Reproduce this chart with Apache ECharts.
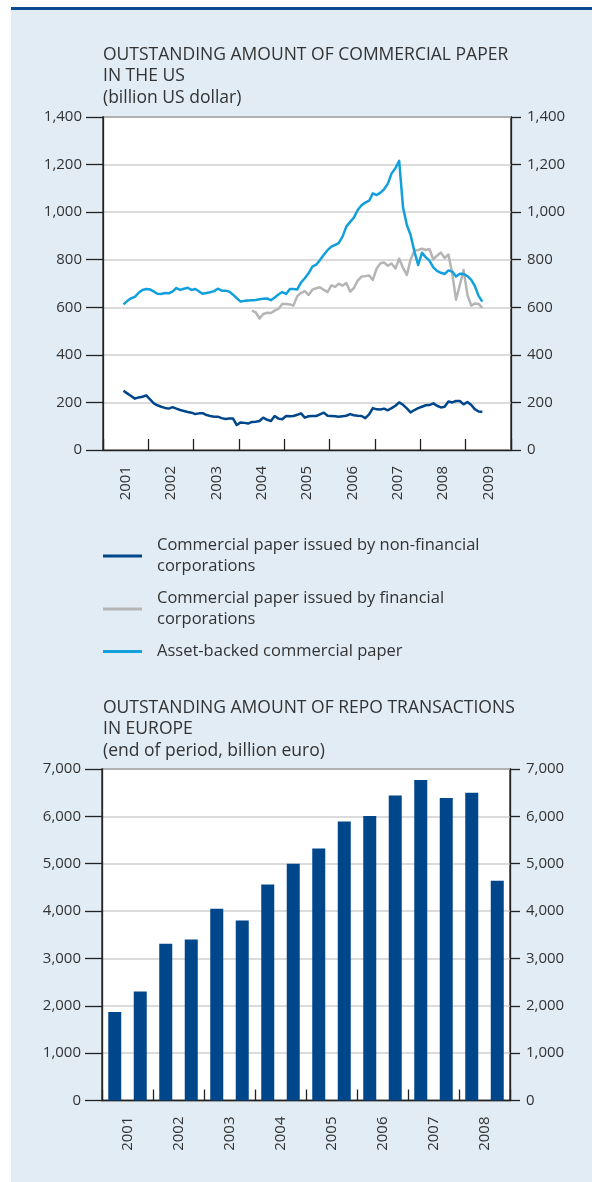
<!DOCTYPE html>
<html>
<head>
<meta charset="utf-8">
<script src="https://cdn.jsdelivr.net/npm/echarts@6/dist/echarts.min.js"></script>
<style>
  html, body { margin: 0; padding: 0; background: #fff; }
  #page { position: relative; width: 592px; height: 1182px; overflow: hidden; background: #fff; }
  #panel { position: absolute; left: 11px; top: 10px; right: 0; bottom: 0; background: #e1ecf4; }
  #rule { position: absolute; left: 11px; top: 7px; right: 0; height: 3px; background: #0b4a90; }
  #chart { position: absolute; left: 0; top: 0; width: 592px; height: 1182px; }
</style>
</head>
<body>
<div id="page">
  <div id="panel"></div>
  <div id="rule"></div>
  <div id="chart"></div>
</div>
<script>
// ---- Commercial paper outstanding in the US (billion US dollar), monthly ----
const cpYears = ['2001', '2002', '2003', '2004', '2005', '2006', '2007', '2008', '2009'];
const cpFirstMonth = '2001-06';
const financialFirstMonth = '2004-04';

const nonFinancial = [
  249, 238, 227, 216, 221, 224, 230, 213, 196, 188, 182, 177,
  174, 180, 174, 168, 164, 160, 157, 151, 154, 155, 147, 143,
  140, 140, 134, 130, 132, 132, 105, 116, 114, 111, 118, 119,
  122, 136, 127, 122, 143, 132, 129, 143, 142, 143, 148, 154,
  136, 142, 143, 143, 150, 157, 144, 143, 142, 140, 142, 144,
  151, 146, 144, 143, 134, 150, 176, 171, 170, 174, 167, 176,
  186, 200, 190, 175, 158, 168, 176, 182, 188, 189, 196, 186,
  179, 182, 204, 200, 206, 206, 192, 202, 189, 172, 162, 161
];

const financial = [
  586, 579, 553, 572, 577, 576, 586, 594, 614, 614, 612, 607,
  647, 660, 668, 652, 674, 680, 684, 673, 664, 692, 686, 699,
  691, 702, 666, 681, 712, 729, 731, 734, 715, 764, 785, 788,
  775, 784, 763, 804, 766, 736, 801, 838, 841, 846, 841, 845,
  801, 817, 830, 807, 822, 740, 632, 694, 757, 652, 607, 616,
  614, 598
];

const assetBacked = [
  612, 626, 638, 644, 661, 673, 677, 675, 666, 657, 656, 660,
  659, 666, 681, 673, 678, 682, 673, 677, 666, 657, 660, 663,
  668, 678, 670, 670, 666, 653, 638, 624, 627, 629, 630, 631,
  634, 636, 637, 630, 641, 654, 664, 656, 677, 677, 675, 704,
  722, 743, 771, 779, 799, 821, 840, 855, 862, 870, 897, 939,
  959, 977, 1009, 1029, 1040, 1048, 1079, 1072, 1082, 1096, 1120, 1163,
  1185, 1216, 1020, 946, 904, 834, 778, 829, 810, 796, 768, 753,
  745, 740, 755, 750, 729, 741, 740, 731, 715, 690, 648, 624
];

// ---- Repo transactions outstanding in Europe (end of period, billion euro) ----
const repoYears = ['2001', '2002', '2003', '2004', '2005', '2006', '2007', '2008'];
const repoPeriods = [
  '2001 H1', '2001 H2', '2002 H1', '2002 H2', '2003 H1', '2003 H2', '2004 H1', '2004 H2',
  '2005 H1', '2005 H2', '2006 H1', '2006 H2', '2007 H1', '2007 H2', '2008 H1', '2008 H2'
];
const repoValues = [
  1870, 2300, 3310, 3400, 4050, 3800, 4560, 5000,
  5320, 5890, 6010, 6440, 6770, 6390, 6500, 4640
];

const seriesNames = {
  nonFinancial: 'Commercial paper issued by non-financial corporations',
  financial: 'Commercial paper issued by financial corporations',
  assetBacked: 'Asset-backed commercial paper'
};
const legendText = {
  'Commercial paper issued by non-financial corporations': 'Commercial paper issued by non-financial\ncorporations',
  'Commercial paper issued by financial corporations': 'Commercial paper issued by financial\ncorporations',
  'Asset-backed commercial paper': 'Asset-backed commercial paper'
};

const FONT = '"Open Sans", "Noto Sans", sans-serif';
const INK = '#333333';
const AXIS = '#222222';
const GRID_LINE = '#cfcfcf';
const DARK_BLUE = '#00468b';
const GREY = '#b5b5b5';
const CYAN = '#12a0dc';

// Month positions are placed mid-month on the time scale.
function monthSeries(start, values) {
  const parts = start.split('-').map(Number);
  return values.map(function (v, i) {
    const m = parts[1] - 1 + i;
    const y = parts[0] + Math.floor(m / 12);
    const mo = (m % 12) + 1;
    return [y + '-' + String(mo).padStart(2, '0') + '-15', v];
  });
}

const thousands = function (v) { return Number(v).toLocaleString('en-US'); };

function valueAxis(gridIndex, max, interval, side) {
  const left = side === 'left';
  return {
    type: 'value', gridIndex: gridIndex, position: side,
    min: 0, max: max, interval: interval,
    axisLine: { show: true, lineStyle: { color: AXIS, width: 1.3 } },
    axisTick: { show: true, inside: false, length: left ? 17 : 10, lineStyle: { color: AXIS, width: 1.3 } },
    axisLabel: { margin: left ? 21 : 16, color: INK, fontSize: 15, fontFamily: FONT, formatter: thousands },
    splitLine: { show: left, lineStyle: { color: GRID_LINE, width: 1.5 } }
  };
}

function yearAxis(gridIndex, years) {
  return {
    type: 'category', gridIndex: gridIndex, position: 'bottom', data: years, boundaryGap: true,
    axisLine: { show: true, lineStyle: { color: AXIS, width: 1.3 } },
    axisTick: { show: true, inside: true, length: 11, interval: 0, alignWithLabel: false, lineStyle: { color: AXIS, width: 1.3 } },
    axisLabel: { rotate: 90, margin: 16, interval: 0, color: INK, fontSize: 15, fontFamily: FONT },
    splitLine: { show: false }
  };
}

const titleStyle = { fontSize: 17.5, fontWeight: 'normal', color: INK, fontFamily: FONT, lineHeight: 21.5 };

const option = {
  animation: false,
  title: [
    {
      left: 103, top: 44, padding: 0,
      text: 'OUTSTANDING AMOUNT OF COMMERCIAL PAPER\nIN THE US\n(billion US dollar)',
      textStyle: titleStyle
    },
    {
      left: 103, top: 697, padding: 0,
      text: 'OUTSTANDING AMOUNT OF REPO TRANSACTIONS\nIN EUROPE\n(end of period, billion euro)',
      textStyle: titleStyle
    }
  ],
  legend: {
    left: 103, top: 535, orient: 'vertical', padding: 0,
    icon: 'rect', itemWidth: 39, itemHeight: 3, itemGap: 11,
    data: [seriesNames.nonFinancial, seriesNames.financial, seriesNames.assetBacked],
    formatter: function (name) { return legendText[name]; },
    textStyle: { fontSize: 16.5, lineHeight: 21, color: INK, fontFamily: FONT, padding: [0, 0, 0, 10] }
  },
  grid: [
    { left: 103, top: 117, width: 408, height: 333, show: true, backgroundColor: '#ffffff', borderColor: AXIS, borderWidth: 1.3 },
    { left: 102, top: 769, width: 408, height: 331.5, show: true, backgroundColor: '#ffffff', borderColor: AXIS, borderWidth: 1.3 }
  ],
  xAxis: [
    yearAxis(0, cpYears),
    { type: 'time', gridIndex: 0, min: '2001-01-01', max: '2010-01-01', show: false },
    { type: 'category', gridIndex: 1, data: repoPeriods, boundaryGap: true, show: false },
    yearAxis(1, repoYears)
  ],
  yAxis: [
    valueAxis(0, 1400, 200, 'left'),
    valueAxis(0, 1400, 200, 'right'),
    valueAxis(1, 7000, 1000, 'left'),
    valueAxis(1, 7000, 1000, 'right')
  ],
  series: [
    {
      name: seriesNames.nonFinancial, type: 'line', xAxisIndex: 1, yAxisIndex: 0,
      data: monthSeries(cpFirstMonth, nonFinancial), symbol: 'none', color: DARK_BLUE,
      lineStyle: { color: DARK_BLUE, width: 2.5, join: 'round' }
    },
    {
      name: seriesNames.financial, type: 'line', xAxisIndex: 1, yAxisIndex: 0,
      data: monthSeries(financialFirstMonth, financial), symbol: 'none', color: GREY,
      lineStyle: { color: GREY, width: 2.5, join: 'round' }
    },
    {
      name: seriesNames.assetBacked, type: 'line', xAxisIndex: 1, yAxisIndex: 0,
      data: monthSeries(cpFirstMonth, assetBacked), symbol: 'none', color: CYAN,
      lineStyle: { color: CYAN, width: 2.5, join: 'round' }
    },
    {
      name: 'Repo transactions', type: 'bar', xAxisIndex: 2, yAxisIndex: 2,
      data: repoValues, barWidth: 13, itemStyle: { color: DARK_BLUE }
    }
  ]
};

const chart = echarts.init(document.getElementById('chart'), null, { renderer: 'canvas' });
chart.setOption(option);
</script>
</body>
</html>
